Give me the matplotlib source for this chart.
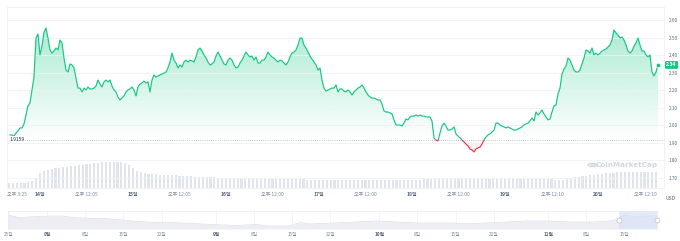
import numpy as np
import matplotlib
matplotlib.use("Agg")
import matplotlib.pyplot as plt
from matplotlib.patches import Polygon, Rectangle, Circle

plt.rcParams['font.family'] = ['Noto Sans CJK KR', 'DejaVu Sans']

# ---------------- data ----------------
BASE_PRICE = 1.9159
T_START, T_END = 13.6774, 20.6452          # day-of-month (fractional)
X_MIN, X_MAX = 13.6452, 20.7097

prices = [
    1.943, 1.943, 1.937, 1.954, 1.966, 1.983, 1.983, 2.006, 2.057, 2.109,
    2.126, 2.200, 2.274, 2.497, 2.520, 2.400, 2.451, 2.531, 2.554, 2.497,
    2.429, 2.411, 2.423, 2.440, 2.429, 2.486, 2.469, 2.383, 2.314, 2.303,
    2.349, 2.343, 2.326, 2.269, 2.211, 2.211, 2.189, 2.211, 2.200, 2.217,
    2.206, 2.206, 2.211, 2.223, 2.257, 2.234, 2.217, 2.246, 2.257, 2.246,
    2.257, 2.223, 2.200, 2.189, 2.160, 2.143, 2.154, 2.166, 2.189, 2.200,
    2.206, 2.217, 2.200, 2.166, 2.217, 2.234, 2.240, 2.251, 2.240, 2.246,
    2.189, 2.257, 2.286, 2.274, 2.280, 2.286, 2.291, 2.297, 2.303, 2.326,
    2.360, 2.411, 2.371, 2.354, 2.326, 2.343, 2.331, 2.360, 2.371, 2.360,
    2.371, 2.366, 2.360, 2.389, 2.429, 2.440, 2.423, 2.400, 2.383, 2.360,
    2.343, 2.349, 2.360, 2.394, 2.417, 2.394, 2.371, 2.349, 2.343, 2.371,
    2.383, 2.371, 2.343, 2.326, 2.331, 2.354, 2.371, 2.394, 2.417, 2.400,
    2.389, 2.394, 2.371, 2.389, 2.354, 2.354, 2.371, 2.371, 2.389, 2.417,
    2.400, 2.389, 2.383, 2.371, 2.360, 2.371, 2.366, 2.354, 2.343, 2.360,
    2.389, 2.411, 2.417, 2.429, 2.457, 2.497, 2.497, 2.457, 2.440, 2.417,
    2.394, 2.377, 2.360, 2.343, 2.314, 2.326, 2.257, 2.211, 2.194, 2.200,
    2.206, 2.211, 2.211, 2.229, 2.189, 2.206, 2.206, 2.194, 2.189, 2.200,
    2.189, 2.171, 2.189, 2.200, 2.211, 2.217, 2.229, 2.211, 2.189, 2.171,
    2.160, 2.154, 2.154, 2.149, 2.143, 2.143, 2.120, 2.080, 2.074, 2.074,
    2.069, 2.063, 2.029, 2.000, 2.000, 2.000, 1.994, 2.011, 2.034, 2.029,
    2.046, 2.051, 2.051, 2.057, 2.051, 2.057, 2.051, 2.051, 2.046, 2.046,
    2.046, 2.023, 1.926, 1.914, 1.909, 1.954, 1.994, 2.011, 1.994, 1.971,
    1.971, 1.977, 1.989, 1.949, 1.937, 1.926, 1.914, 1.903, 1.891, 1.880,
    1.863, 1.857, 1.846, 1.863, 1.869, 1.874, 1.891, 1.914, 1.931, 1.943,
    1.949, 1.960, 1.971, 2.011, 2.011, 2.000, 1.994, 1.989, 1.983, 1.989,
    1.983, 1.977, 1.971, 1.971, 1.977, 1.983, 1.989, 2.000, 2.006, 2.011,
    2.023, 2.040, 2.023, 2.074, 2.057, 2.069, 2.086, 2.063, 2.046, 2.029,
    2.034, 2.074, 2.109, 2.114, 2.177, 2.211, 2.291, 2.320, 2.337, 2.383,
    2.371, 2.343, 2.314, 2.303, 2.303, 2.314, 2.349, 2.383, 2.429, 2.423,
    2.411, 2.440, 2.400, 2.411, 2.400, 2.411, 2.423, 2.429, 2.434, 2.446,
    2.457, 2.486, 2.543, 2.526, 2.514, 2.497, 2.503, 2.486, 2.457, 2.423,
    2.411, 2.423, 2.451, 2.469, 2.497, 2.457, 2.423, 2.423, 2.400, 2.389,
    2.400, 2.303, 2.280, 2.303, 2.343,
]

VOL_T0 = 13.667            # first hourly volume bar (day-of-month)
volumes = [                # hourly volume, millions USD
    100, 100, 100, 100, 100, 120,
    140, 200, 300, 340, 360, 380, 400, 400, 420, 420, 440, 440, 460, 460, 480, 480, 500, 500,
    520, 520, 520, 520, 520, 520,
    500, 460, 400, 340, 320, 300, 280, 280, 280,
    260, 260, 260, 260, 260,
    240, 240, 240, 240,
    220, 220, 220, 220, 220, 220,
    200, 200, 200, 200, 200, 200, 200, 200, 200, 200, 200, 200,
    180, 180, 180, 180, 180, 180, 180, 180, 180, 180, 180,
    160, 160, 160, 160, 160, 160, 160, 160, 160, 160, 160, 160, 160, 160, 160,
    160, 160, 160, 160, 160, 160, 160, 160, 160, 160, 160, 160, 160, 160, 160,
    180, 180, 180,
    200, 200, 200, 200, 200, 200, 200, 200, 200, 200, 200,
    180, 180, 180, 180, 180, 180, 180, 180, 180, 180,
    180, 180, 180, 180, 180, 180, 180, 180, 180, 180,
    160, 160, 160,
    180, 200, 220, 220, 240, 240, 260, 260, 280, 280, 300, 300, 300,
    320, 320, 320, 320, 320, 320, 320, 320, 320, 320, 320,
]
VOL_MAX = 3620

y_ticks = [1.70, 1.80, 1.90, 2.00, 2.10, 2.20, 2.30, 2.40, 2.50, 2.60]
x_tick_pos = [13.6452, 14, 14.503, 15, 15.503, 16, 16.5, 17, 17.5, 18, 18.5,
              19, 19.507, 20, 20.507]
x_tick_labels = ["오후 3:25", "14일", "오후 12:05", "15일", "오후 12:05", "16일",
                 "오후 12:00", "17일", "오후 12:00", "18일", "오후 12:00", "19일",
                 "오후 12:10", "20일", "오후 12:10"]

# navigator (days since 24 Jul)
NAV_X_MIN, NAV_X_MAX = 0.8, 120.0
nav_values = [14, 11.5, 12, 12.5, 13, 13, 11.5, 11, 10.5, 10.5,
              9.5, 8.5, 7.5, 7, 6.5, 6.5, 6, 5.5, 5, 4.5,
              4, 3.5, 4, 4.5, 3, 3, 3, 6.5, 5, 5.5,
              6, 6.5, 7, 7.5, 8, 7.5, 7, 6.5, 6, 6,
              6, 6, 5.5, 5.5, 6, 6.5, 7, 7.5, 8, 8,
              8, 7.5, 7, 7, 7, 7.5, 8.5, 14, 12, 13, 13]
nav_tick_days = [1, 8, 15, 22, 29, 39, 46, 53, 60, 69, 76, 83, 90, 100, 107, 114]
nav_tick_labels = ["25일", "8월", "8일", "15일", "22일", "9월", "8일", "15일", "22일",
                   "10월", "8일", "15일", "22일", "11월", "8일", "15일"]
NAV_SEL = (113.0, 120.0)

GREEN = "#16c784"
RED = "#ea3943"
GREY_TXT = "#58667e"
LIGHT_TXT = "#808a9d"
GRID = "#eff2f5"

# ---------------- figure ----------------
W, H = 680, 241
fig = plt.figure(figsize=(W / 100, H / 100), dpi=100)
fig.patch.set_facecolor("white")

def px_rect(x0, y0, x1, y1):
    return [x0 / W, 1 - y1 / H, (x1 - x0) / W, (y1 - y0) / H]

main_rect = px_rect(7, 7, 664, 188)
Y_MIN, Y_MAX = 1.6400, 2.6743

# volume axes (behind)
axv = fig.add_axes(main_rect, zorder=0)
axv.bar(VOL_T0 + np.arange(len(volumes)) / 24.0, volumes, width=0.55 / 24.0,
        color="#e1e4ea", linewidth=0)
axv.set_xlim(X_MIN, X_MAX)
axv.set_ylim(0, VOL_MAX)
axv.axis("off")

ax = fig.add_axes(main_rect, zorder=2)
ax.patch.set_visible(False)
t = np.linspace(T_START, T_END, len(prices))
p = np.array(prices)

ax.set_xlim(X_MIN, X_MAX)
ax.set_ylim(Y_MIN, Y_MAX)

# gradient fills
poly = Polygon(np.column_stack([np.r_[t[0], t, t[-1]], np.r_[BASE_PRICE, p, BASE_PRICE]]),
               closed=True, transform=ax.transData, facecolor="none", edgecolor="none")
ax.add_patch(poly)
g_rgb = matplotlib.colors.to_rgb(GREEN)
grad = np.zeros((256, 1, 4))
grad[..., :3] = g_rgb
grad[:, 0, 3] = np.linspace(0.36, 0.0, 256)
im = ax.imshow(grad, extent=[t[0], t[-1], BASE_PRICE, p.max()], origin="upper",
               aspect="auto", zorder=1, interpolation="bilinear")
im.set_clip_path(poly)
r_rgb = matplotlib.colors.to_rgb(RED)
gradr = np.zeros((256, 1, 4))
gradr[..., :3] = r_rgb
gradr[:, 0, 3] = np.linspace(0.0, 0.15, 256)
imr = ax.imshow(gradr, extent=[t[0], t[-1], p.min(), BASE_PRICE], origin="upper",
                aspect="auto", zorder=1, interpolation="bilinear")
imr.set_clip_path(poly)
ax.set_xlim(X_MIN, X_MAX)
ax.set_ylim(Y_MIN, Y_MAX)

# line split at baseline
lg, = ax.plot(t, p, color=GREEN, lw=0.85, zorder=3, solid_joinstyle="round")
lg.set_clip_path(Rectangle((X_MIN, BASE_PRICE), X_MAX - X_MIN, Y_MAX - BASE_PRICE,
                           transform=ax.transData))
lr, = ax.plot(t, p, color=RED, lw=0.85, zorder=3, solid_joinstyle="round")
lr.set_clip_path(Rectangle((X_MIN, Y_MIN), X_MAX - X_MIN, BASE_PRICE - Y_MIN,
                           transform=ax.transData))
ax.plot([t[-1]], [p[-1]], "o", color=GREEN, ms=3.2, mec="white", mew=0.4, zorder=4)

# baseline
ax.axhline(BASE_PRICE, color="#a6b0c3", lw=0.6, ls=(0, (1, 1.6)), zorder=2)
ax.text(0.004, BASE_PRICE, f"{BASE_PRICE:.4f}", transform=ax.get_yaxis_transform(),
        ha="left", va="center", fontsize=3.6, color="#222531", zorder=5,
        bbox=dict(facecolor="white", edgecolor="none", pad=0.6))

# grid / axes
ax.set_yticks(y_ticks)
ax.set_yticklabels([f"{v:.2f}" for v in y_ticks])
ax.yaxis.tick_right()
ax.grid(axis="y", color=GRID, lw=0.6, zorder=0)
ax.tick_params(axis="y", length=0, labelsize=3.4, colors=GREY_TXT, pad=3.2)
ax.set_xticks(x_tick_pos)
ax.set_xticklabels(x_tick_labels)
ax.tick_params(axis="x", length=0, labelsize=3.6, colors=LIGHT_TXT, pad=2.6)
for i, lab in enumerate(ax.get_xticklabels()):
    if x_tick_labels[i].endswith("일"):
        lab.set_fontweight("bold")
        lab.set_color(GREY_TXT)
    if i == 0:
        lab.set_horizontalalignment("left")
for s in ax.spines.values():
    s.set_color("#eceff3")
    s.set_linewidth(0.6)

# current price tag
ax.text(1.0115, p[-1], "2.34", transform=ax.get_yaxis_transform(), ha="center",
        va="center", fontsize=3.6, color="white", fontweight="bold", clip_on=False,
        zorder=6, bbox=dict(boxstyle="round,pad=0.28,rounding_size=0.25",
                            facecolor=GREEN, edgecolor="none"))
fig.text(670 / W, 1 - 198 / H, "USD", ha="center", va="center", fontsize=3.6,
         color=GREY_TXT)

# watermark
wm_col = "#d3d8e1"
fig.text(627 / W, 1 - 165 / H, "CoinMarketCap", ha="center", va="center",
         fontsize=5.2, color=wm_col, fontweight="bold", family=["DejaVu Sans"])
fig.patches.append(Circle((592.5 / W, 1 - 165 / H), 4.6 / W, transform=fig.transFigure,
                          facecolor="none", edgecolor=wm_col, lw=0.9))
fig.text(592.5 / W, 1 - 165.3 / H, "M", ha="center", va="center", fontsize=4.2,
         color=wm_col, fontweight="bold", family=["DejaVu Sans"])

# ---------------- navigator ----------------
axn = fig.add_axes(px_rect(8, 211, 657, 229))
nt = np.linspace(NAV_X_MIN, NAV_X_MAX, len(nav_values))
axn.fill_between(nt, 0, nav_values, color="#eceef3", lw=0)
axn.plot(nt, nav_values, color="#dadfe7", lw=0.5)
axn.axvspan(*NAV_SEL, color="#dbe3f8", alpha=0.75, lw=0)
axn.plot(NAV_SEL, [9, 9], "o", ms=3.6, mfc="white", mec="#b8c0cc", mew=0.5,
         clip_on=False, zorder=5)
axn.set_xlim(NAV_X_MIN, NAV_X_MAX)
axn.set_ylim(0, 18)
axn.set_yticks([])
axn.set_xticks(nav_tick_days)
axn.set_xticklabels(nav_tick_labels)
axn.tick_params(axis="x", length=0, labelsize=3.4, colors=LIGHT_TXT, pad=2.4)
for i, lab in enumerate(axn.get_xticklabels()):
    if nav_tick_labels[i].endswith("월"):
        lab.set_fontweight("bold")
        lab.set_color(GREY_TXT)
axn.grid(axis="x", color="#eef0f4", lw=0.5)
axn.set_axisbelow(True)
for name, s in axn.spines.items():
    s.set_color("#e6e9ee")
    s.set_linewidth(0.5)
axn.spines["bottom"].set_visible(False)
axn.patch.set_visible(False)

fig.savefig("out.png", dpi=100, facecolor="white")
